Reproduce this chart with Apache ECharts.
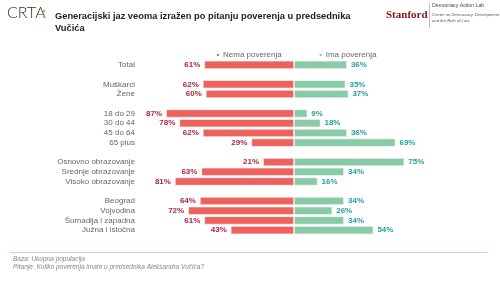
<!DOCTYPE html>
<html>
<head>
<meta charset="utf-8">
<title>CRTA - poverenje</title>
<script src="https://cdn.jsdelivr.net/npm/echarts@6/dist/echarts.min.js"></script>
<style>
  html, body { margin: 0; padding: 0; background: #fff; }
  #main { width: 500px; height: 281px; }
</style>
</head>
<body>
<div id="main"></div>
<script>
// kategorije (prazni redovi su razmaci između grupa)
var categories = ['Total', ' ', 'Muškarci', 'Žene', '  ', '18 do 29', '30 do 44', '45 do 64', '65 plus', '   ',
  'Osnovno obrazovanje', 'Srednje obrazovanje', 'Visoko obrazovanje', '    ',
  'Beograd', 'Vojvodina', 'Šumadija i zapadna', 'Južna i istočna'];
var nemaPoverenja = [61, null, 62, 60, null, 87, 78, 62, 29, null, 21, 63, 81, null, 64, 72, 61, 43];
var imaPoverenja = [36, null, 35, 37, null, 9, 18, 36, 69, null, 75, 34, 16, null, 34, 26, 34, 54];

var font = 'Liberation Sans';
var myChart = echarts.init(document.getElementById('main'));

myChart.setOption({
    animation: false,
    textStyle: { fontFamily: font },
    legend: {
        top: 46,
        left: 210,
        itemWidth: 4,
        itemHeight: 4,
        itemGap: 36,
        icon: 'rect',
        textStyle: { fontSize: 8, color: '#666', padding: [0, 0, 0, -2] },
        data: ['Nema poverenja', 'Ima poverenja']
    },
    grid: { left: 147, right: 59, top: 60, bottom: 46, containLabel: false },
    xAxis: {
        type: 'value', min: -100, max: 100, show: false
    },
    yAxis: {
        type: 'category',
        data: categories,
        inverse: true,
        axisLine: { show: false },
        axisTick: { show: false },
        axisLabel: { fontSize: 8, color: '#666', margin: 12, interval: 0 }
    },
    series: [
        {
            name: 'Nema poverenja',
            type: 'bar',
            stack: 'a',
            barCategoryGap: '16%',
            data: nemaPoverenja.map(function (v) { return v == null ? null : -v; }),
            itemStyle: { color: '#EF615D', borderColor: '#fff', borderWidth: 0.6 },
            label: {
                show: true, position: 'left', distance: 4,
                fontSize: 8, fontWeight: 'bold', color: '#B5223C',
                formatter: function (p) { return Math.abs(p.value) + '%'; }
            }
        },
        {
            name: 'Ima poverenja',
            type: 'bar',
            stack: 'a',
            data: imaPoverenja,
            itemStyle: { color: '#89CBA6', borderColor: '#fff', borderWidth: 0.6 },
            label: {
                show: true, position: 'right', distance: 4,
                fontSize: 8, fontWeight: 'bold', color: '#22A29B',
                formatter: '{c}%'
            }
        }
    ],
    graphic: [
        // CRTA logo
        { type: 'text', left: 7, top: 5, style: { text: 'CRTA', font: '300 16px Lato', fill: '#333' } },
        { type: 'text', left: 42, top: 5, style: { text: ':', font: 'bold 16px Lato', fill: '#F39A3B' } },
        // naslov
        { type: 'text', left: 55, top: 10, style: {
            text: 'Generacijski jaz veoma izražen po pitanju poverenja u predsedni­ka\nVučića'.replace('\u00ad', ''),
            font: 'bold 9.3px "Liberation Sans"', fill: '#222', lineHeight: 12 } },
        // Stanford
        { type: 'text', left: 386, top: 10, style: { text: 'Stanford', font: 'bold 11px "Liberation Serif"', fill: '#8C1515' } },
        { type: 'rect', shape: { x: 429, y: 3, width: 0.6, height: 25 }, style: { fill: '#999' } },
        { type: 'text', left: 432, top: 3, style: { text: 'Democracy Action Lab', font: '5.2px "Liberation Sans"', fill: '#444' } },
        { type: 'text', left: 432, top: 12, style: {
            text: 'Center on Democracy, Development\nand the Rule of Law',
            font: 'italic 4.2px "Liberation Sans"', fill: '#555', lineHeight: 6 } },
        // linija i fusnota
        { type: 'rect', shape: { x: 10, y: 252, width: 478, height: 0.8 }, style: { fill: '#EDB99E' } },
        { type: 'text', left: 13, top: 255, style: {
            text: 'Baza: Ukupna populacija\nPitanje: Koliko poverenja imate u predsednika Aleksandra Vučića?',
            font: 'italic 6.5px "Liberation Sans"', fill: '#888', lineHeight: 8 } }
    ]
});
</script>
</body>
</html>
